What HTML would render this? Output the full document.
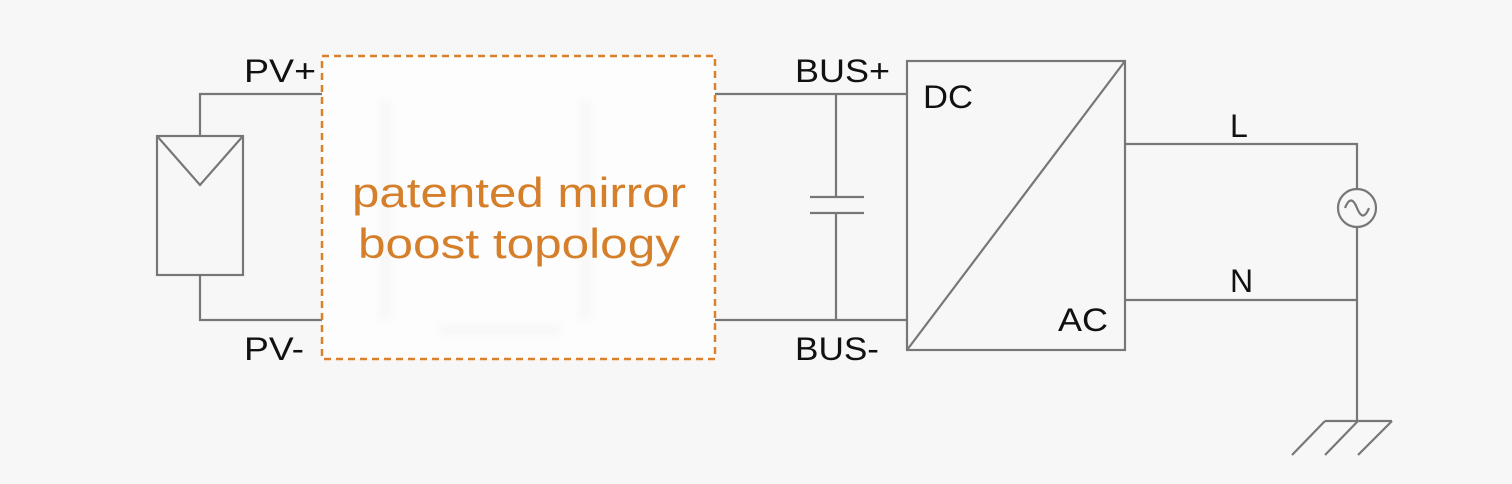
<!DOCTYPE html>
<html><head><meta charset="utf-8"><style>
html,body{margin:0;padding:0;background:#f7f7f7;}
svg{display:block}
text{font-family:"Liberation Sans",sans-serif;}
</style></head><body>
<svg width="1512" height="484" viewBox="0 0 1512 484" xmlns="http://www.w3.org/2000/svg">
<defs><filter id="b" x="-20%" y="-20%" width="140%" height="140%"><feGaussianBlur stdDeviation="5"/></filter></defs>
<rect width="1512" height="484" fill="#f7f7f7"/>
<g stroke="#777" stroke-width="2.2" fill="none">
<rect x="157" y="136" width="86" height="139"/>
<polyline points="157,136 200,185 243,136"/>
<polyline points="200,136 200,94 322,94"/>
<polyline points="200,275 200,320 322,320"/>
<line x1="715" y1="94" x2="907" y2="94"/>
<line x1="715" y1="320" x2="907" y2="320"/>
<line x1="836" y1="94" x2="836" y2="197"/>
<line x1="836" y1="213" x2="836" y2="320"/>
<line x1="810" y1="197" x2="864" y2="197"/>
<line x1="810" y1="213" x2="864" y2="213"/>
<rect x="907" y="61" width="218" height="289"/>
<line x1="907" y1="350" x2="1125" y2="61"/>
<polyline points="1125,144 1357,144 1357,189"/>
<polyline points="1125,300 1357,300"/>
<line x1="1357" y1="227" x2="1357" y2="421"/>
<circle cx="1357" cy="208" r="19"/>
<path d="M1345,208 C1349,198 1353,198 1357,208 C1361,218 1365,218 1369,208"/>
<line x1="1325" y1="421" x2="1392" y2="421"/>
<line x1="1325" y1="421" x2="1292" y2="455"/>
<line x1="1358" y1="421" x2="1325" y2="455"/>
<line x1="1392" y1="421" x2="1358" y2="455"/>
</g>
<rect x="322" y="56" width="393" height="303" fill="#fdfdfd"/>
<g stroke="#ddd" stroke-width="6" fill="none" filter="url(#b)" opacity="0.35">
<line x1="385" y1="100" x2="385" y2="320"/>
<line x1="585" y1="100" x2="585" y2="320"/>
<line x1="440" y1="330" x2="560" y2="330"/>
</g>
<rect x="322" y="56" width="393" height="303" fill="none" stroke="#d9822b" stroke-width="2.5" stroke-dasharray="7,5"/>
<text x="352" y="207" fill="#d57f2a" font-size="42" textLength="334" lengthAdjust="spacingAndGlyphs">patented mirror</text>
<text x="358" y="258" fill="#d57f2a" font-size="42" textLength="322" lengthAdjust="spacingAndGlyphs">boost topology</text>
<g fill="#111" font-size="32">
<text x="244" y="82" textLength="72" lengthAdjust="spacingAndGlyphs">PV+</text>
<text x="244" y="360" textLength="60" lengthAdjust="spacingAndGlyphs">PV-</text>
<text x="795" y="82" textLength="95" lengthAdjust="spacingAndGlyphs">BUS+</text>
<text x="795" y="360" textLength="84" lengthAdjust="spacingAndGlyphs">BUS-</text>
<text x="923" y="108" textLength="50" lengthAdjust="spacingAndGlyphs">DC</text>
<text x="1058" y="331" textLength="50" lengthAdjust="spacingAndGlyphs">AC</text>
<text x="1230" y="137">L</text>
<text x="1230" y="292">N</text>
</g>
</svg>
</body></html>
